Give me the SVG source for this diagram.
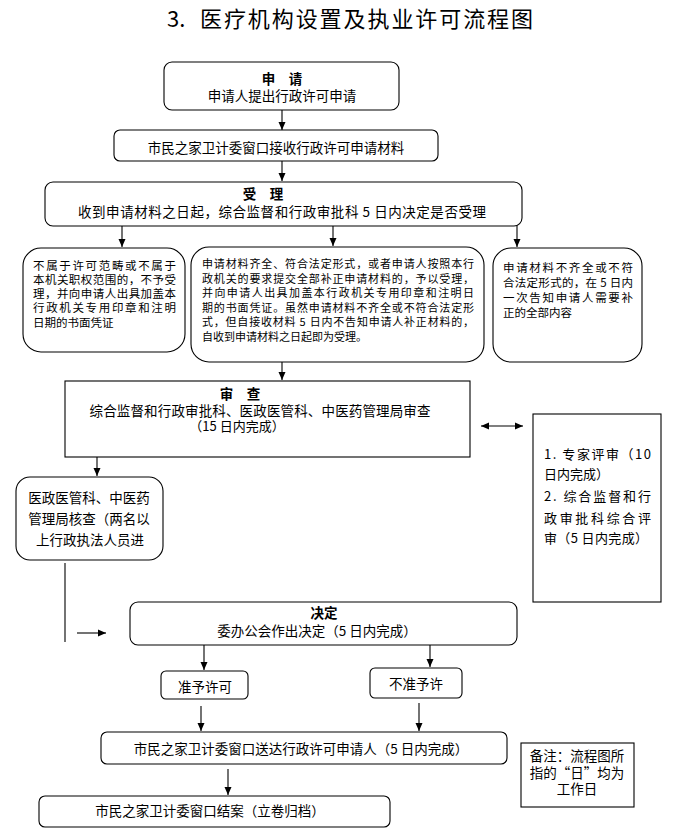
<svg xmlns="http://www.w3.org/2000/svg" width="679" height="834" viewBox="0 0 679 834">
<style>
text{font-family:"Noto Sans CJK SC","Noto Sans",sans-serif;fill:#000;dominant-baseline:central}
.t{font-size:13.5px;text-anchor:middle}
.b{font-size:13.5px;font-weight:bold;text-anchor:middle}
.s{font-size:11.5px}
.m{font-size:11px}
.r{font-size:13px}
.box{fill:#fff;stroke:#000;stroke-width:1.1}
.ln{stroke:#000;stroke-width:1.1;fill:none}
</style>
<defs>
<marker id="ah" markerUnits="userSpaceOnUse" markerWidth="8" markerHeight="8" refX="8" refY="4" orient="auto-start-reverse">
<path d="M0,0.5 L8,4 L0,7.5 z" fill="#000"/>
</marker>
</defs>
<rect width="679" height="834" fill="#fff"/>
<text x="167" y="17" style="font-size:22px">3.<tspan x="200" textLength="333" lengthAdjust="spacing">医疗机构设置及执业许可流程图</tspan></text>

<g id="apply">
<rect class="box" x="164" y="62" width="235" height="48" rx="8"/>
<text class="b" x="282" y="78">申　请</text>
<text class="t" x="282" y="95">申请人提出行政许可申请</text>
</g>
<g id="receive">
<rect class="box" x="114" y="130" width="324" height="31" rx="6"/>
<text class="t" x="276" y="147">市民之家卫计委窗口接收行政许可申请材料</text>
</g>
<g id="accept">
<rect class="box" x="45" y="182" width="477" height="44" rx="8"/>
<text class="b" x="263" y="193">受　理</text>
<text class="t" x="282" y="211" textLength="408" lengthAdjust="spacing">收到申请材料之日起，综合监督和行政审批科 5 日内决定是否受理</text>
</g>
<g id="reject">
<rect class="box" x="23" y="248" width="162" height="104" rx="18"/>
<text class="s" x="33" y="265" textLength="143" lengthAdjust="spacing">不属于许可范畴或不属于</text>
<text class="s" x="33" y="279" textLength="143" lengthAdjust="spacing">本机关职权范围的，不予受</text>
<text class="s" x="33" y="293" textLength="143" lengthAdjust="spacing">理，并向申请人出具加盖本</text>
<text class="s" x="33" y="307" textLength="143" lengthAdjust="spacing">行政机关专用印章和注明</text>
<text class="s" x="33" y="322">日期的书面凭证</text>
</g>
<g id="accepted">
<rect class="box" x="191" y="247" width="293" height="115" rx="18"/>
<text class="m" x="202" y="263" textLength="272" lengthAdjust="spacing">申请材料齐全、符合法定形式，或者申请人按照本行</text>
<text class="m" x="202" y="278" textLength="272" lengthAdjust="spacing">政机关的要求提交全部补正申请材料的，予以受理，</text>
<text class="m" x="202" y="292" textLength="272" lengthAdjust="spacing">并向申请人出具加盖本行政机关专用印章和注明日</text>
<text class="m" x="202" y="307" textLength="272" lengthAdjust="spacing">期的书面凭证。虽然申请材料不齐全或不符合法定形</text>
<text class="m" x="202" y="321" textLength="272" lengthAdjust="spacing">式，但自接收材料 5 日内不告知申请人补正材料的，</text>
<text class="m" x="202" y="336">自收到申请材料之日起即为受理。</text>
</g>
<g id="incomplete">
<rect class="box" x="493" y="248" width="149" height="114" rx="18"/>
<text class="s" x="503" y="267" textLength="130" lengthAdjust="spacing">申请材料不齐全或不符</text>
<text class="s" x="503" y="282" textLength="130" lengthAdjust="spacing">合法定形式的，在 5 日内</text>
<text class="s" x="503" y="297" textLength="130" lengthAdjust="spacing">一次告知申请人需要补</text>
<text class="s" x="503" y="312">正的全部内容</text>
</g>
<g id="review">
<rect class="box" x="65" y="381" width="405" height="76"/>
<text class="b" x="240" y="393">审　查</text>
<text class="t" x="260" y="410" textLength="341" lengthAdjust="spacing">综合监督和行政审批科、医政医管科、中医药管理局审查</text>
<text class="t" x="237" y="425" style="font-size:13px">（15 日内完成）</text>
</g>
<g id="expert">
<rect class="box" x="533" y="414" width="128" height="188"/>
<text class="r" x="544" y="453" textLength="107" lengthAdjust="spacing">1. 专家评审（10</text>
<text class="r" x="544" y="473">日内完成）</text>
<text class="r" x="544" y="495" textLength="107" lengthAdjust="spacing">2. 综合监督和行</text>
<text class="r" x="544" y="517" textLength="107" lengthAdjust="spacing">政审批科综合评</text>
<text class="r" x="544" y="537" textLength="104" lengthAdjust="spacing">审（5 日内完成）</text>
</g>
<g id="verify">
<rect class="box" x="16" y="477" width="147" height="83" rx="14"/>
<text class="t" x="89" y="497">医政医管科、中医药</text>
<text class="t" x="89" y="518">管理局核查（两名以</text>
<text class="t" x="90" y="539">上行政执法人员进</text>
</g>
<g id="decide">
<rect class="box" x="130" y="602" width="387" height="43" rx="8"/>
<text class="b" x="324" y="612">决定</text>
<text class="t" x="317" y="630">委办公会作出决定（5 日内完成）</text>
</g>
<g id="grant">
<rect class="box" x="161" y="671" width="87" height="28" rx="5"/>
<text class="t" x="205" y="686">准予许可</text>
</g>
<g id="deny">
<rect class="box" x="370" y="668" width="92" height="30" rx="5"/>
<text class="t" x="416" y="683">不准予许</text>
</g>
<g id="deliver">
<rect class="box" x="101" y="732" width="406" height="32" rx="6"/>
<text class="t" x="301" y="748">市民之家卫计委窗口送达行政许可申请人（5 日内完成）</text>
</g>
<g id="close">
<rect class="box" x="39" y="796" width="351" height="31" rx="6"/>
<text class="t" x="210" y="810">市民之家卫计委窗口结案（立卷归档）</text>
</g>
<g id="note">
<rect class="box" x="521" y="743" width="113" height="64"/>
<text class="t" x="577" y="755">备注：流程图所</text>
<text class="t" x="577" y="772">指的“日”均为</text>
<text class="t" x="577" y="788">工作日</text>
</g>

<g id="connectors">
<line class="ln" x1="282" y1="110" x2="282" y2="130" marker-end="url(#ah)"/>
<line class="ln" x1="282" y1="161" x2="282" y2="181" marker-end="url(#ah)"/>
<line class="ln" x1="122" y1="226" x2="122" y2="247" marker-end="url(#ah)"/>
<line class="ln" x1="333" y1="226" x2="333" y2="246" marker-end="url(#ah)"/>
<line class="ln" x1="517" y1="226" x2="517" y2="247" marker-end="url(#ah)"/>
<line class="ln" x1="282" y1="362" x2="282" y2="380" marker-end="url(#ah)"/>
<line class="ln" x1="97" y1="457" x2="97" y2="476" marker-end="url(#ah)"/>
<line class="ln" x1="481" y1="426" x2="523" y2="426" marker-start="url(#ah)" marker-end="url(#ah)"/>
<line class="ln" x1="65" y1="563" x2="65" y2="642"/>
<line class="ln" x1="77" y1="633" x2="106" y2="633" marker-end="url(#ah)"/>
<line class="ln" x1="204" y1="645" x2="204" y2="670" marker-end="url(#ah)"/>
<line class="ln" x1="430" y1="645" x2="430" y2="667" marker-end="url(#ah)"/>
<line class="ln" x1="201" y1="706" x2="201" y2="731" marker-end="url(#ah)"/>
<line class="ln" x1="419" y1="703" x2="419" y2="731" marker-end="url(#ah)"/>
<line class="ln" x1="228" y1="769" x2="228" y2="795" marker-end="url(#ah)"/>
</g>
</svg>
